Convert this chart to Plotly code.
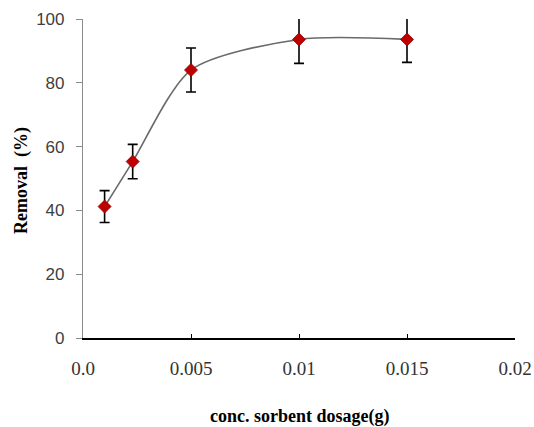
import plotly.graph_objects as go

dosage = [0.001, 0.0023, 0.005, 0.01, 0.015]
removal = [41.2, 55.3, 84.0, 93.6, 93.6]
err = [5.0, 5.4, 6.9, 7.5, 7.2]

x_ticks = [0.0, 0.005, 0.01, 0.015, 0.02]
x_ticklabels = ["0.0", "0.005", "0.01", "0.015", "0.02"]
y_ticks = [0, 20, 40, 60, 80, 100]

fig = go.Figure()
fig.add_trace(go.Scatter(
    x=dosage, y=removal,
    mode="lines+markers",
    line=dict(color="#6a6a6a", width=1.6, shape="spline", smoothing=0.75),
    marker=dict(symbol="diamond", size=10, color="#c00000",
                line=dict(color="#8b0000", width=0.8)),
    error_y=dict(type="data", array=err, visible=True,
                 color="black", thickness=1.6, width=5),
    showlegend=False,
    cliponaxis=False,
))

fig.update_layout(
    width=534, height=427,
    margin=dict(l=83, r=19, t=19, b=89, autoexpand=False),
    paper_bgcolor="white", plot_bgcolor="white",
    xaxis=dict(
        range=[0, 0.02], tickvals=x_ticks, ticktext=x_ticklabels,
        showgrid=False, zeroline=False, automargin=False,
        showline=True, linecolor="black", linewidth=1.5,
        ticks="inside", ticklen=4, tickcolor="black", tickwidth=1.2,
        tickfont=dict(family="Liberation Serif", size=19, color="#333333"),
        ticklabelstandoff=12,
    ),
    yaxis=dict(
        range=[0, 100], tickvals=y_ticks,
        showgrid=False, zeroline=False, automargin=False,
        showline=True, linecolor="#8c8c8c", linewidth=1.2,
        ticks="outside", ticklen=6, tickcolor="#8c8c8c", tickwidth=1.2,
        tickfont=dict(family="Liberation Sans", size=17, color="#404040"),
        ticklabelstandoff=8,
    ),
    annotations=[
        dict(text="conc. sorbent dosage(g)", xref="paper", yref="paper",
             x=0.502, y=-0.245, xanchor="center", yanchor="middle",
             showarrow=False,
             font=dict(family="Liberation Serif", size=18, color="black", weight="bold")),
        dict(text="Removal  (%)", xref="paper", yref="paper",
             x=-0.1435, y=0.492, xanchor="center", yanchor="middle",
             showarrow=False, textangle=-90,
             font=dict(family="Liberation Serif", size=18, color="black", weight="bold")),
    ],
)

fig.write_html("out.html", config={"displayModeBar": False},
               post_script="document.body.style.margin='0';document.body.style.overflow='hidden';")
